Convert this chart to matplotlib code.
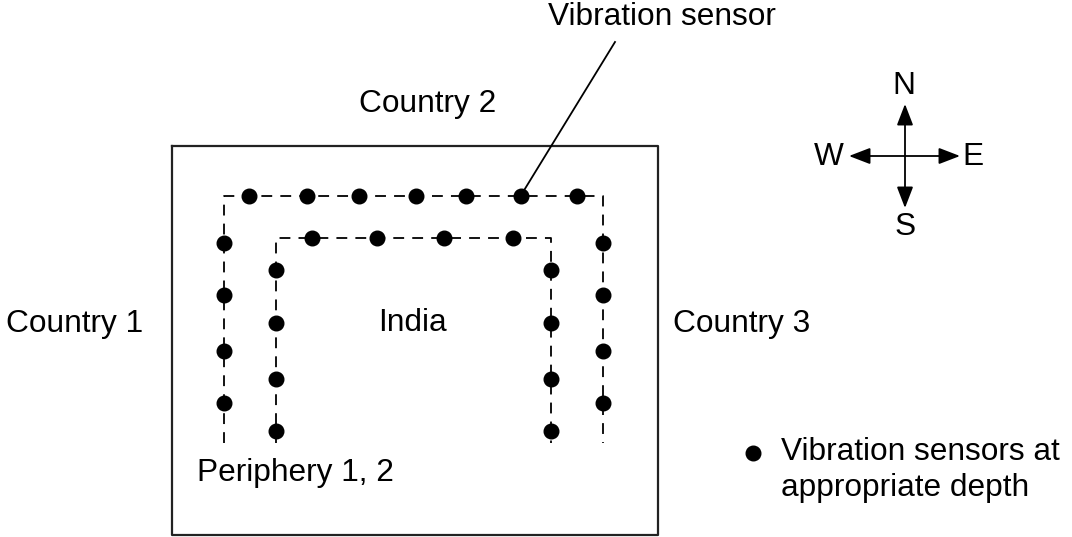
import matplotlib.pyplot as plt

plt.rcParams['font.family'] = ['Liberation Sans', 'DejaVu Sans']

# sensor layout (pixel coordinates of the diagram)
outer_top_x = [249, 307, 359, 416, 466, 521, 577]
outer_top_y = 196
outer_left_x, outer_right_x = 224, 603
outer_side_y = [243, 295, 351, 403]
outer_end_y = 443

inner_top_x = [312, 377, 444, 513]
inner_top_y = 238
inner_left_x, inner_right_x = 276, 551
inner_side_y = [270, 323, 379, 431]
inner_end_y = 443

labels = {
    'Country 1': (75, 324),
    'Country 2': (428, 104),
    'Country 3': (742, 324),
    'India': (412, 323),
    'Periphery 1, 2': (295, 473),
}

fig = plt.figure(figsize=(10.72, 5.37), dpi=100)
ax = fig.add_axes([0, 0, 1, 1])
ax.set_xlim(0, 1072)
ax.set_ylim(537, 0)
ax.axis('off')

# outer frame (India)
ax.plot([172, 658, 658, 172, 172], [146, 146, 535, 535, 146], color='#222222', lw=1.6)

dash = dict(color='black', lw=1.3, linestyle=(0, (6, 4.5)))
ax.plot([outer_left_x, outer_left_x, outer_right_x, outer_right_x],
        [outer_end_y, outer_top_y, outer_top_y, outer_end_y], **dash)
ax.plot([inner_left_x, inner_left_x, inner_right_x, inner_right_x],
        [inner_end_y, inner_top_y, inner_top_y, inner_end_y], **dash)

dot = dict(marker='o', ls='none', color='black', ms=10.5)
ax.plot(outer_top_x, [outer_top_y] * len(outer_top_x), **dot)
ax.plot([outer_left_x] * 4, outer_side_y, **dot)
ax.plot([outer_right_x] * 4, outer_side_y, **dot)
ax.plot(inner_top_x, [inner_top_y] * len(inner_top_x), **dot)
ax.plot([inner_left_x] * 4, inner_side_y, **dot)
ax.plot([inner_right_x] * 4, inner_side_y, **dot)

fs = 22.8
for txt, (x, y) in labels.items():
    ax.text(x, y, txt, ha='center', va='center', fontsize=fs)

# callout
ax.text(662, 17, 'Vibration sensor', ha='center', va='center', fontsize=fs)
ax.plot([615, 523], [42, 192], color='black', lw=1.3)

# compass
cx, cy = 905, 156
arr = dict(arrowstyle='-|>,head_length=1.3,head_width=0.5', color='black', lw=1.3,
           shrinkA=0, shrinkB=0)
for tx, ty in [(905, 104), (905, 208), (849, 156), (960, 156)]:
    ax.annotate('', xy=(tx, ty), xytext=(cx, cy), arrowprops=arr)
ax.text(904, 86, 'N', ha='center', va='center', fontsize=fs)
ax.text(905, 227, 'S', ha='center', va='center', fontsize=fs)
ax.text(829, 157, 'W', ha='center', va='center', fontsize=fs)
ax.text(973, 157, 'E', ha='center', va='center', fontsize=fs)

# legend
ax.plot([753], [453], **dot)
ax.text(781, 452, 'Vibration sensors at', ha='left', va='center', fontsize=fs)
ax.text(781, 488, 'appropriate depth', ha='left', va='center', fontsize=fs)

fig.savefig('out.png', dpi=100)
